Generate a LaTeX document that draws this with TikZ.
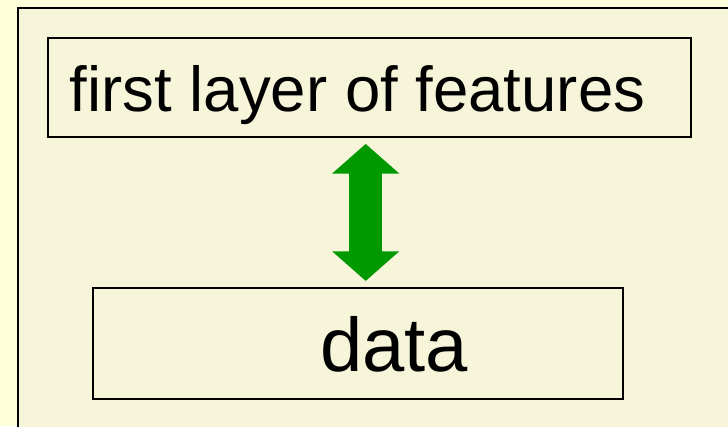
\documentclass[tikz,border=0pt]{standalone}
\usepackage{fontspec}
\setmainfont{Liberation Sans}
\usetikzlibrary{arrows.meta}

\definecolor{pagebg}{HTML}{FFFFDC}
\definecolor{panelbg}{HTML}{F6F5DA}
\definecolor{arrowgreen}{HTML}{009900}

\tikzset{
  layerbox/.style={draw=black, fill=panelbg, inner sep=0pt},
  bigarrow/.style={arrowgreen, line width=32.7pt,
    {Triangle[length=29.7pt,width=65.6pt]}-{Triangle[length=29.7pt,width=65.6pt]}}
}

\begin{document}
\begin{tikzpicture}[x=1pt,y=-1pt]

% page and panel
\fill[pagebg] (0,0) rectangle (728,426);
\useasboundingbox (0,0) rectangle (728,426);
\clip (0,0) rectangle (728,426);
\draw[fill=panelbg, line width=2pt] (17.5,8) rectangle (728.5,440);

% the two layers
\node[layerbox, line width=1.2pt, minimum width=643pt, minimum height=99pt,
  font=\fontsize{63.5}{70}\selectfont, text height=50pt, text depth=3pt]
  (features) at (369.5,87.5) {first layer of features\hspace*{24pt}};

\node[layerbox, line width=1.5pt, minimum width=530pt, minimum height=111pt,
  font=\fontsize{76}{84}\selectfont, text height=57pt, text depth=0.6pt]
  (data) at (358,343.5) {\hspace*{72pt}data};

% two-way arrow between them
\coordinate (arrowx) at (365.7,0);
\draw[bigarrow] ([yshift=-6.3pt]features.south -| arrowx)
  -- ([yshift=6.3pt]data.north -| arrowx);

\end{tikzpicture}
\end{document}
